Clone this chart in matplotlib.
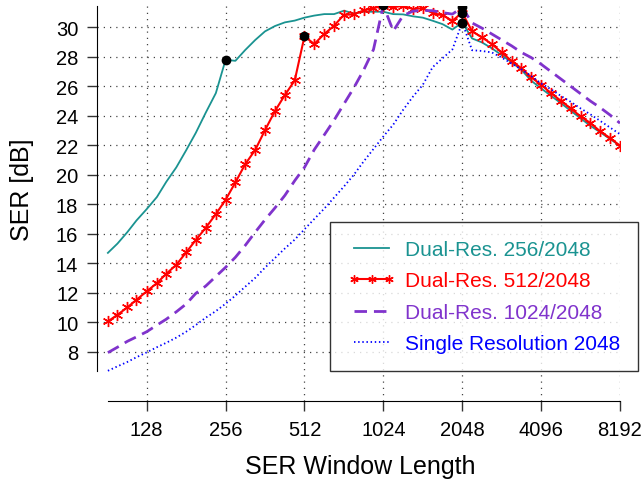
import matplotlib
matplotlib.use("Agg")
import matplotlib.pyplot as plt

plt.rcParams['font.family'] = ['Liberation Sans', 'DejaVu Sans']

# window lengths (1/8 octave steps from ~91 to 8192)
win = [91, 99, 108, 117, 128, 140, 152, 166, 181, 197, 215, 235, 256, 279, 304, 332,
       362, 395, 431, 470, 512, 558, 609, 664, 724, 790, 861, 939, 1024, 1117, 1218,
       1328, 1448, 1579, 1722, 1878, 2048, 2233, 2435, 2656, 2896, 3158, 3444, 3756,
       4096, 4467, 4871, 5312, 5793, 6317, 6889, 7512, 8192]

ser_256 = [14.70, 15.33, 16.11, 16.90, 17.67, 18.49, 19.52, 20.50, 21.66, 22.84, 24.21,
           25.54, 27.80, 27.73, 28.46, 29.14, 29.73, 30.09, 30.34, 30.46, 30.66, 30.80,
           30.90, 30.90, 31.13, 30.95, 31.06, 31.06, 31.06, 30.90, 30.88, 30.75, 30.66,
           30.45, 30.22, 29.85, 30.33, 29.25, 28.98, 28.58, 28.12, 27.63, 27.12, 26.38,
           25.86, 25.36, 24.86, 24.34, 23.83, 23.32, 22.88, 22.42, 21.97]

ser_512 = [10.05, 10.50, 11.00, 11.52, 12.09, 12.65, 13.28, 13.89, 14.73, 15.57, 16.40,
           17.33, 18.30, 19.48, 20.71, 21.68, 23.03, 24.32, 25.41, 26.40, 29.39, 28.87,
           29.55, 30.11, 30.85, 30.88, 31.15, 31.31, 31.45, 31.36, 31.47, 31.24, 31.30,
           30.97, 30.82, 30.45, 31.00, 29.73, 29.32, 28.87, 28.30, 27.73, 27.22, 26.61,
           26.11, 25.54, 25.02, 24.50, 23.96, 23.51, 22.94, 22.49, 21.97]

ser_1024 = [7.93, 8.30, 8.70, 9.00, 9.35, 9.80, 10.20, 10.70, 11.23, 11.95, 12.45, 13.10,
            13.72, 14.40, 15.20, 16.10, 16.95, 17.75, 18.60, 19.60, 20.50, 21.70, 22.70,
            23.70, 24.80, 25.90, 27.10, 28.50, 31.50, 29.75, 30.80, 31.10, 31.15, 31.13,
            31.00, 30.90, 31.35, 30.30, 29.95, 29.55, 29.15, 28.75, 28.30, 27.95, 27.50,
            27.00, 26.50, 26.00, 25.50, 25.00, 24.55, 24.05, 23.50]

ser_2048 = [6.70, 7.00, 7.30, 7.62, 7.95, 8.30, 8.60, 8.95, 9.35, 9.80, 10.30, 10.75,
            11.25, 11.80, 12.40, 13.00, 13.70, 14.35, 15.00, 15.60, 16.30, 17.00, 17.70,
            18.45, 19.20, 20.00, 20.90, 21.75, 22.60, 23.40, 24.40, 25.30, 26.10, 27.30,
            27.90, 28.50, 30.33, 28.45, 28.40, 28.30, 27.95, 27.55, 27.15, 26.70, 26.20,
            25.80, 25.35, 24.95, 24.50, 24.10, 23.65, 23.20, 22.75]

labels = ["Dual-Res. 256/2048", "Dual-Res. 512/2048", "Dual-Res. 1024/2048",
          "Single Resolution 2048"]
colors = ["#1a9391", "#ff0000", "#8033cc", "#0000ff"]
switch_idx = [[12, 36], [20, 36], [28, 36], [36]]   # black dots at resolution switch

xticks = [128, 256, 512, 1024, 2048, 4096, 8192]
yticks = list(range(8, 31, 2))

fig = plt.figure(figsize=(6.44, 4.81), dpi=100)
ax = fig.add_axes([97 / 644, 79 / 481, 523 / 644, 395 / 481])

series = [ser_256, ser_512, ser_1024, ser_2048]
ax.plot(win, ser_256, color=colors[0], lw=1.3, label=labels[0])
ax.plot(win, ser_512, color=colors[1], lw=1.5, marker=(6, 2, 0), ms=8, mew=1.0,
        label=labels[1])
ax.plot(win, ser_1024, color=colors[2], lw=2, linestyle=(0, (4.5, 2.5)), label=labels[2])
ax.plot(win, ser_2048, color=colors[3], lw=1.3, linestyle=(0, (0.8, 1.5)), label=labels[3])

for s, idx in zip(series, switch_idx):
    ax.plot([win[i] for i in idx], [s[i] for i in idx], 'o', color='black', ms=6, zorder=5)

ax.set_xscale('log', base=2)
ax.set_xlim(82.7, 8192)
ax.set_ylim(4.65, 31.45)
ax.set_xticks(xticks)
ax.set_xticklabels([str(t) for t in xticks])
ax.minorticks_off()
ax.set_yticks(yticks)

ax.grid(True, color='#444444', linestyle=(0, (1, 4)), lw=0.9)
for sp in ['top', 'right']:
    ax.spines[sp].set_visible(False)
ax.spines['left'].set_bounds(6.68, 31.45)
ax.spines['bottom'].set_bounds(91, 8192)
ax.tick_params(axis='both', direction='out', length=7.5, width=1, colors='#333333',
               labelcolor='black', labelsize=14.5, pad=6)

ax.set_xlabel("SER Window Length", fontsize=18)
ax.set_ylabel("SER [dB]", fontsize=18)
ax.xaxis.set_label_coords(0.503, -0.135)
ax.yaxis.set_label_coords(-0.12, 0.537)

leg = ax.legend(loc='lower right', bbox_to_anchor=(638 / 644, 109 / 481),
                bbox_transform=fig.transFigure, fontsize=15, frameon=True, fancybox=False,
                edgecolor='black', borderpad=0.85, labelspacing=0.6, handlelength=2.3,
                handletextpad=0.45, borderaxespad=0, numpoints=3, markerscale=0.75)
leg.get_frame().set_linewidth(1.0)
for txt, c in zip(leg.get_texts(), colors):
    txt.set_color(c)

fig.savefig("out.png", dpi=100)
